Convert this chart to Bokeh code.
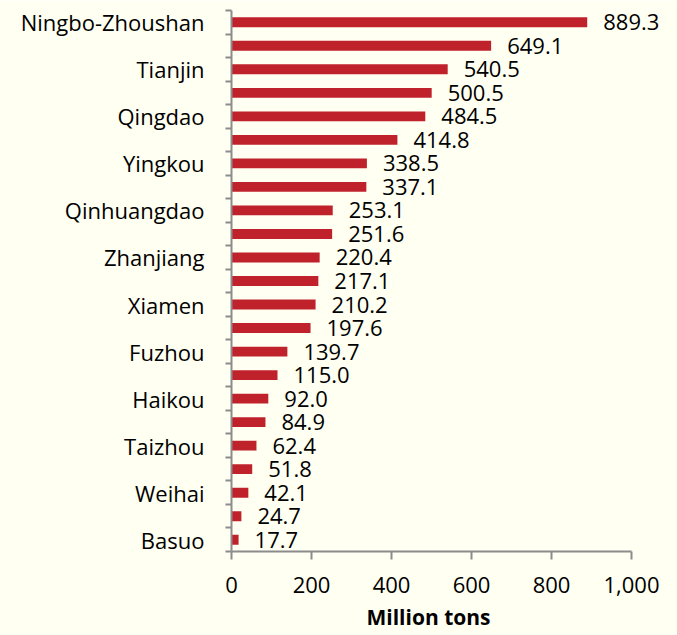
from bokeh.plotting import figure
from bokeh.models import ColumnDataSource, FixedTicker, LinearAxis, NumeralTickFormatter, Range1d, Title
from bokeh.core.properties import value
from bokeh.embed import file_html
from bokeh.resources import INLINE

ports = ["Ningbo-Zhoushan", "", "Tianjin", "", "Qingdao", "", "Yingkou", "",
         "Qinhuangdao", "", "Zhanjiang", "", "Xiamen", "", "Fuzhou", "",
         "Haikou", "", "Taizhou", "", "Weihai", "", "Basuo"]
throughput = [889.3, 649.1, 540.5, 500.5, 484.5, 414.8, 338.5, 337.1,
              253.1, 251.6, 220.4, 217.1, 210.2, 197.6, 139.7, 115.0,
              92.0, 84.9, 62.4, 51.8, 42.1, 24.7, 17.7]
x_ticks = [0, 200, 400, 600, 800, 1000]
x_title = "Million tons"

FONT = "Open Sans"
BG = "#FFFFF2"
BAR = "#C0222B"
AX = "#8C8C8C"

n = len(ports)
idx = list(range(n))
src = ColumnDataSource(dict(
    y=idx, v=throughput, lab=["%.1f" % t for t in throughput]))

p = figure(width=677, height=635, output_backend="svg", toolbar_location=None,
           x_range=Range1d(0, 1115), y_range=Range1d(n - 0.5, -0.5),
           y_axis_location=None, x_axis_location=None,
           background_fill_color=BG, border_fill_color=BG,
           min_border_left=231, min_border_right=0, min_border_top=10,
           min_border_bottom=84)
p.outline_line_color = None
p.grid.visible = False

p.hbar(y="y", right="v", left=0, height=0.42, source=src,
       fill_color=BAR, line_color=None)
p.text(x="v", y="y", text="lab", source=src, x_offset=16,
       text_font=value(FONT), text_font_size="22px", text_color="#000000",
       text_baseline="middle", text_align="left")

lab_pos = [i for i in idx if ports[i]]
boundaries = [i + 0.5 for i in range(-1, n)]
yax = LinearAxis(ticker=FixedTicker(ticks=lab_pos, minor_ticks=boundaries),
                 major_label_overrides={i: ports[i] for i in lab_pos},
                 major_label_text_font=FONT, major_label_text_font_size="22px",
                 major_label_text_color="#000000", major_label_standoff=21,
                 major_tick_out=0, major_tick_in=0,
                 minor_tick_out=6, minor_tick_in=0,
                 minor_tick_line_color=AX, minor_tick_line_width=2,
                 axis_line_color=AX, axis_line_width=2)
p.add_layout(yax, "left")

xax = LinearAxis(ticker=FixedTicker(ticks=x_ticks),
                 bounds=(0, 1000),
                 formatter=NumeralTickFormatter(format="0,0"),
                 major_label_text_font=FONT, major_label_text_font_size="22px",
                 major_label_text_color="#000000", major_label_standoff=17,
                 major_tick_out=8, major_tick_in=0, minor_tick_out=0,
                 axis_line_color=AX, major_tick_line_color=AX,
                 axis_line_width=2, major_tick_line_width=2)
p.add_layout(xax, "below")

p.add_layout(Title(text=x_title, align="left", offset=135,
                   text_font=FONT, text_font_size="21px",
                   text_font_style="bold", text_color="#000000",
                   text_line_height=0.7, standoff=10), "below")

open("out.html", "w").write(file_html(p, INLINE))
